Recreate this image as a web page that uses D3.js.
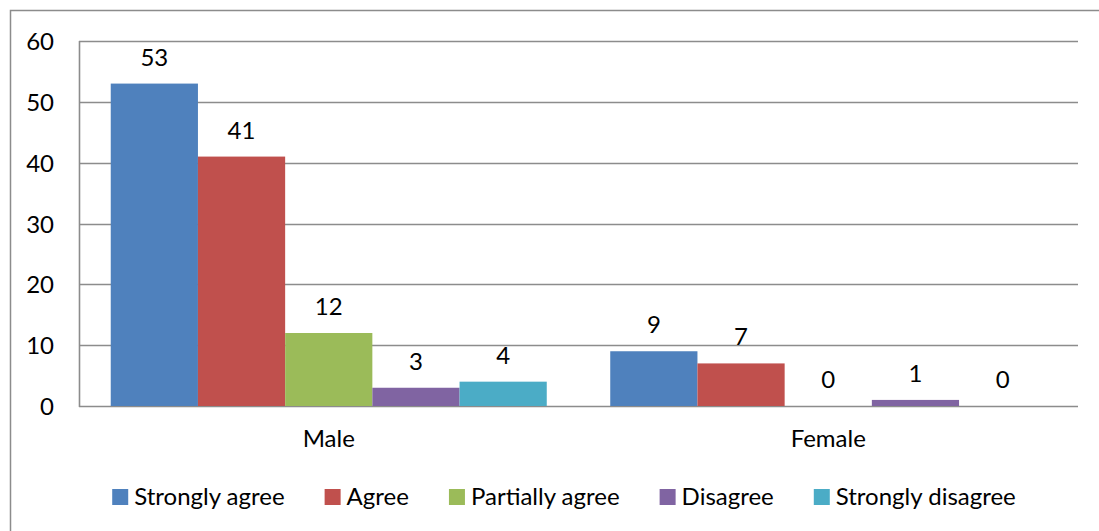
<!DOCTYPE html>
<html>
<head>
<meta charset="utf-8">
<script src="https://cdn.jsdelivr.net/npm/d3@7"></script>
<style>
  html, body { margin: 0; padding: 0; background: #fff; }
  svg { display: block; font-family: Lato, "Open Sans", sans-serif; }
</style>
</head>
<body>
<svg id="chart" width="1099" height="531"></svg>
<script>
// Survey responses by gender
const categories = ["Male", "Female"];
const seriesNames = ["Strongly agree", "Agree", "Partially agree", "Disagree", "Strongly disagree"];
const stronglyAgree = [53, 9];
const agree = [41, 7];
const partiallyAgree = [12, 0];
const disagree = [3, 1];
const stronglyDisagree = [4, 0];
const yTicks = [0, 10, 20, 30, 40, 50, 60];
const colors = ["#4F81BD", "#C0504D", "#9BBB59", "#8064A2", "#4BACC6"];

const seriesValues = [stronglyAgree, agree, partiallyAgree, disagree, stronglyDisagree];

const svg = d3.select("#chart");
const W = 1099, H = 531;
const plot = { left: 79, right: 1078, top: 41, bottom: 406 };
const fontSize = 24;
const gridColor = "#8c8c8c";

// outer chart frame
svg.append("path")
  .attr("d", `M10.5,${H} L10.5,10.5 L${W},10.5`)
  .attr("fill", "none")
  .attr("stroke", gridColor)
  .attr("stroke-width", 1.5);

const y = d3.scaleLinear().domain([0, 60]).range([plot.bottom, plot.top]);
const x0 = d3.scaleBand().domain(categories).range([plot.left, plot.right]).padding(0);
const x1 = d3.scaleBand().domain(seriesNames).range([0, x0.bandwidth()])
  .paddingInner(0).paddingOuter(0.364);

// horizontal gridlines
svg.append("g").selectAll("line")
  .data(yTicks)
  .join("line")
  .attr("x1", plot.left).attr("x2", plot.right)
  .attr("y1", d => Math.round(y(d)) + 0.5).attr("y2", d => Math.round(y(d)) + 0.5)
  .attr("stroke", gridColor).attr("stroke-width", 1.6);

// y axis line
svg.append("line")
  .attr("x1", plot.left + 0.5).attr("x2", plot.left + 0.5)
  .attr("y1", plot.top).attr("y2", plot.bottom + 1)
  .attr("stroke", gridColor).attr("stroke-width", 1.6);

// y tick labels
const yAxis = d3.axisLeft(y).tickValues(yTicks).tickSize(0).tickPadding(0);
const yg = svg.append("g").attr("transform", `translate(54,0)`).call(yAxis);
yg.select(".domain").remove();
yg.selectAll("text")
  .attr("font-family", "Lato, 'Open Sans', sans-serif")
  .attr("font-size", fontSize)
  .attr("fill", "#000")
  .attr("dy", "0.36em");

// bars
const rows = [];
categories.forEach((c, ci) => {
  seriesNames.forEach((s, si) => {
    rows.push({ cat: c, series: s, value: seriesValues[si][ci], color: colors[si] });
  });
});

const groups = svg.append("g");
groups.selectAll("rect")
  .data(rows)
  .join("rect")
  .attr("x", d => x0(d.cat) + x1(d.series))
  .attr("y", d => y(d.value))
  .attr("width", x1.bandwidth())
  .attr("height", d => y(0) - y(d.value))
  .attr("fill", d => d.color);

// value labels
groups.selectAll("text")
  .data(rows)
  .join("text")
  .attr("x", d => x0(d.cat) + x1(d.series) + x1.bandwidth() / 2)
  .attr("y", d => y(d.value) - 18)
  .attr("text-anchor", "middle")
  .attr("font-size", fontSize)
  .attr("fill", "#000")
  .text(d => d.value);

// category labels
svg.append("g").selectAll("text")
  .data(categories)
  .join("text")
  .attr("x", d => x0(d) + x0.bandwidth() / 2)
  .attr("y", 447)
  .attr("text-anchor", "middle")
  .attr("font-size", fontSize)
  .attr("fill", "#000")
  .text(d => d);

// legend
const legend = svg.append("g");
const items = legend.selectAll("g")
  .data(seriesNames)
  .join("g");
items.append("rect")
  .attr("width", 16).attr("height", 16)
  .attr("y", 489)
  .attr("fill", (d, i) => colors[i]);
items.append("text")
  .attr("x", 22)
  .attr("y", 505)
  .attr("font-size", fontSize)
  .attr("fill", "#000")
  .text(d => d);

const legendGap = 40;
let cursor = 0;
const positions = [];
items.each(function () {
  const w = d3.select(this).select("text").node().getComputedTextLength();
  positions.push(cursor);
  cursor += 22 + w + legendGap;
});
const totalW = cursor - legendGap;
const startX = 564 - totalW / 2;
items.attr("transform", (d, i) => `translate(${startX + positions[i]},0)`);
</script>
</body>
</html>
